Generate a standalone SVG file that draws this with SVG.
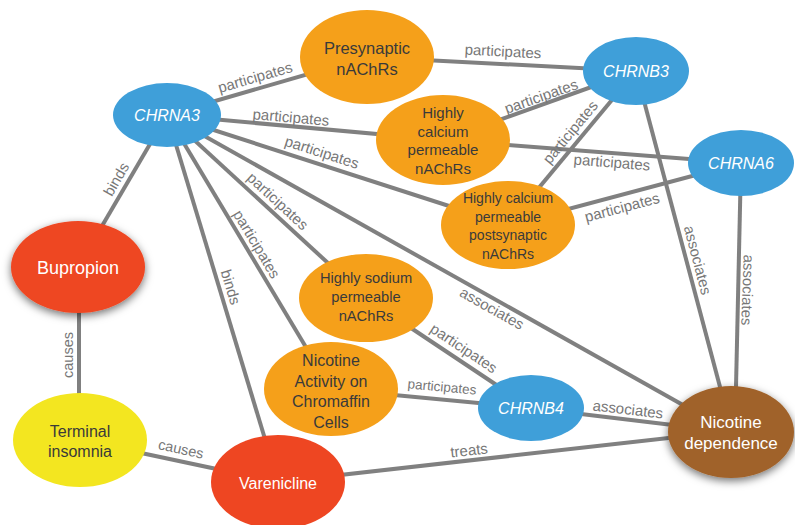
<svg xmlns="http://www.w3.org/2000/svg" width="795" height="525" viewBox="0 0 795 525">
<defs>
<filter id="sh" x="-30%" y="-30%" width="160%" height="160%">
<feDropShadow dx="0" dy="3" stdDeviation="4" flood-color="#000" flood-opacity="0.55"/>
</filter>
<style>
.e{stroke:#808080;stroke-width:4;fill:none}
.l{font-family:"Liberation Sans",Arial,Helvetica,sans-serif;font-size:15px;fill:#777;text-anchor:middle;dominant-baseline:central}
.t{font-family:"Liberation Sans",Arial,Helvetica,sans-serif;text-anchor:middle;dominant-baseline:central}
.blue{fill:#3F9FD9}.orange{fill:#F5A01A}.red{fill:#EE4622}.yellow{fill:#F3E620}.brown{fill:#A0622A}
.w{fill:#fff}.d{fill:#3a3a3a}
</style>
</defs>
<rect width="795" height="525" fill="#fff"/>
<g id="edges">
<line class="e" x1="167" y1="115" x2="367" y2="57"/>
<line class="e" x1="167" y1="115" x2="443" y2="140"/>
<line class="e" x1="167" y1="115" x2="508" y2="225"/>
<line class="e" x1="167" y1="115" x2="366" y2="298"/>
<line class="e" x1="167" y1="115" x2="331" y2="389"/>
<line class="e" x1="167" y1="115" x2="278" y2="482"/>
<line class="e" x1="167" y1="115" x2="78" y2="267"/>
<line class="e" x1="167" y1="115" x2="731" y2="432"/>
<line class="e" x1="367" y1="57" x2="636" y2="71"/>
<line class="e" x1="443" y1="140" x2="636" y2="71"/>
<line class="e" x1="443" y1="140" x2="741" y2="163"/>
<line class="e" x1="508" y1="225" x2="636" y2="71"/>
<line class="e" x1="508" y1="225" x2="741" y2="163"/>
<line class="e" x1="636" y1="71" x2="732" y2="432"/>
<line class="e" x1="741" y1="163" x2="735" y2="432"/>
<line class="e" x1="366" y1="298" x2="531" y2="408"/>
<line class="e" x1="331" y1="389" x2="531" y2="408"/>
<line class="e" x1="531" y1="408" x2="731" y2="432"/>
<line class="e" x1="278" y1="482" x2="731" y2="431"/>
<line class="e" x1="79" y1="267" x2="79" y2="440"/>
<line class="e" x1="80" y1="440" x2="278" y2="482"/>
<text class="l" transform="translate(255,77) rotate(-16.2)">participates</text>
<text class="l" transform="translate(291,117) rotate(5)">participates</text>
<text class="l" transform="translate(322,152) rotate(17.9)">participates</text>
<text class="l" transform="translate(278,201) rotate(42.6)">participates</text>
<text class="l" transform="translate(257,244) rotate(59.1)">participates</text>
<text class="l" transform="translate(231,287) rotate(73.2)">binds</text>
<text class="l" transform="translate(116,179) rotate(-59.6)">binds</text>
<text class="l" transform="translate(492,308) rotate(29.3)">associates</text>
<text class="l" transform="translate(503,51) rotate(3)">participates</text>
<text class="l" transform="translate(541,96) rotate(-19.4)">participates</text>
<text class="l" transform="translate(612,162) rotate(4.6)">participates</text>
<text class="l" transform="translate(570,132) rotate(-50.3)">participates</text>
<text class="l" transform="translate(622,207) rotate(-14.9)">participates</text>
<text class="l" transform="translate(698,260) rotate(75.2)">associates</text>
<text class="l" transform="translate(748,290) rotate(92)">associates</text>
<text class="l" transform="translate(464,348) rotate(33.7)">participates</text>
<text class="l" style="font-size:13.5px" transform="translate(442,387) rotate(5.4)">participates</text>
<text class="l" transform="translate(628,409) rotate(6.6)">associates</text>
<text class="l" transform="translate(469,450) rotate(-6.4)">treats</text>
<text class="l" style="font-size:14.5px" transform="translate(68,355) rotate(-90)">causes</text>
<text class="l" style="font-size:14.5px" transform="translate(181,449) rotate(12)">causes</text>
</g>
<g id="CHRNA3"><ellipse class="blue" cx="167" cy="115" rx="54" ry="32"/><text class="t w" x="167" y="115" font-size="16" font-style="italic">CHRNA3</text></g>
<g id="Presynaptic"><ellipse class="orange" cx="367" cy="57" rx="67" ry="47"/><text class="t d" font-size="16.5"><tspan x="367" y="48">Presynaptic</tspan><tspan x="367" y="69">nAChRs</tspan></text></g>
<g id="HighlyCalcium"><ellipse class="orange" cx="443" cy="140" rx="67" ry="45"/><text class="t d" font-size="15"><tspan x="443" y="112">Highly</tspan><tspan x="443" y="130.5">calcium</tspan><tspan x="443" y="149">permeable</tspan><tspan x="443" y="167.5">nAChRs</tspan></text></g>
<g id="CHRNB3"><ellipse class="blue" cx="636" cy="71" rx="53" ry="34"/><text class="t w" x="636" y="71" font-size="16" font-style="italic">CHRNB3</text></g>
<g id="CHRNA6"><ellipse class="blue" cx="741" cy="163" rx="53" ry="33"/><text class="t w" x="741" y="163" font-size="16" font-style="italic">CHRNA6</text></g>
<g id="Postsynaptic"><ellipse class="orange" cx="508" cy="225" rx="67" ry="44"/><text class="t d" font-size="14"><tspan x="508" y="198">Highly calcium</tspan><tspan x="508" y="216.5">permeable</tspan><tspan x="508" y="235">postsynaptic</tspan><tspan x="508" y="253.5">nAChRs</tspan></text></g>
<g id="Bupropion"><ellipse class="red" cx="78" cy="267" rx="67" ry="46" filter="url(#sh)"/><text class="t w" x="78" y="268" font-size="18">Bupropion</text></g>
<g id="HighlySodium"><ellipse class="orange" cx="366" cy="298" rx="67" ry="44"/><text class="t d" font-size="14.7"><tspan x="366" y="278">Highly sodium</tspan><tspan x="366" y="297">permeable</tspan><tspan x="366" y="315.5">nAChRs</tspan></text></g>
<g id="NicotineActivity"><ellipse class="orange" cx="331" cy="389" rx="67" ry="47"/><text class="t d" font-size="16"><tspan x="331" y="360">Nicotine</tspan><tspan x="331" y="380.5">Activity on</tspan><tspan x="331" y="401">Chromaffin</tspan><tspan x="331" y="421.5">Cells</tspan></text></g>
<g id="CHRNB4"><ellipse class="blue" cx="531" cy="408" rx="53" ry="33"/><text class="t w" x="531" y="408" font-size="16" font-style="italic">CHRNB4</text></g>
<g id="NicotineDependence"><ellipse class="brown" cx="731" cy="432" rx="63" ry="46" filter="url(#sh)"/><text class="t w" font-size="17"><tspan x="731" y="422">Nicotine</tspan><tspan x="731" y="443">dependence</tspan></text></g>
<g id="TerminalInsomnia"><ellipse class="yellow" cx="80" cy="440" rx="67" ry="47"/><text class="t d" font-size="16"><tspan x="80" y="431">Terminal</tspan><tspan x="80" y="451">insomnia</tspan></text></g>
<g id="Varenicline"><ellipse class="red" cx="278" cy="482" rx="67" ry="47"/><text class="t w" x="278" y="483" font-size="16">Varenicline</text></g>
</svg>
